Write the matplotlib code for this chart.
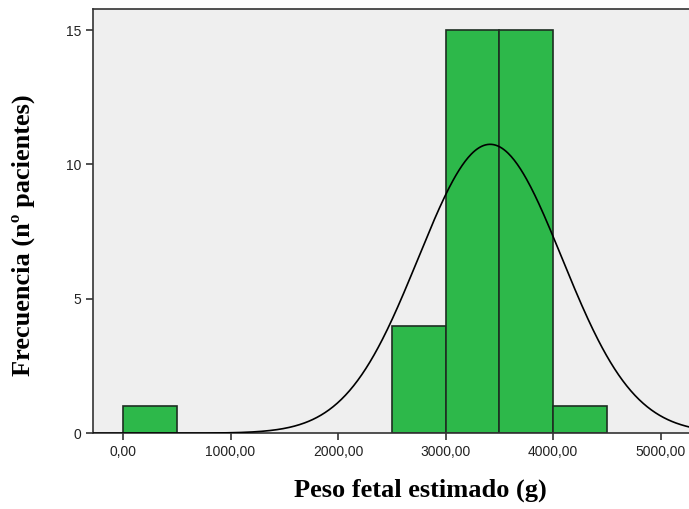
import numpy as np
import matplotlib.pyplot as plt

# histogram bins (g) and counts
bin_left = [0, 2500, 3000, 3500, 4000]
counts = [1, 4, 15, 15, 1]
bin_width = 500
n_total = 36
mean_w = 3415
sd_w = 668

fig = plt.figure(figsize=(6.89, 5.09), dpi=100)
ax = fig.add_axes([0.135, 0.149, 0.865, 0.833])
ax.set_facecolor('#efefef')

ax.bar(bin_left, counts, width=bin_width, align='edge',
       color='#2db84a', edgecolor='#1e2e22', linewidth=1.2, zorder=2)

xs = np.linspace(-300, 5400, 600)
ys = n_total * bin_width / (sd_w * np.sqrt(2 * np.pi)) * np.exp(-0.5 * ((xs - mean_w) / sd_w) ** 2)
ax.plot(xs, ys, color='black', linewidth=1.2, zorder=3)

ax.set_xlim(-279, 5265)
ax.set_ylim(0, 15.78)
ax.set_xticks([0, 1000, 2000, 3000, 4000, 5000])
ax.set_xticklabels(['0,00', '1000,00', '2000,00', '3000,00', '4000,00', '5000,00'])
ax.set_yticks([0, 5, 10, 15])
ax.tick_params(labelsize=10, length=5, width=1.2, color='#333333', labelcolor='#222222')
for lab in ax.get_xticklabels() + ax.get_yticklabels():
    lab.set_family('Liberation Sans')

for s in ['left', 'bottom', 'top']:
    ax.spines[s].set_color('#333333')
    ax.spines[s].set_linewidth(1.2)
ax.spines['right'].set_visible(False)

ax.set_xlabel('Peso fetal estimado (g)', family='Liberation Serif',
              fontweight='bold', fontsize=19, va='center')
ax.xaxis.set_label_coords(0.55, -0.134)
ax.set_ylabel('Frecuencia (nº pacientes)', family='Liberation Serif',
              fontweight='bold', fontsize=19, va='center')
ax.yaxis.set_label_coords(-0.117, 0.467)

plt.savefig('out.png', dpi=100)
